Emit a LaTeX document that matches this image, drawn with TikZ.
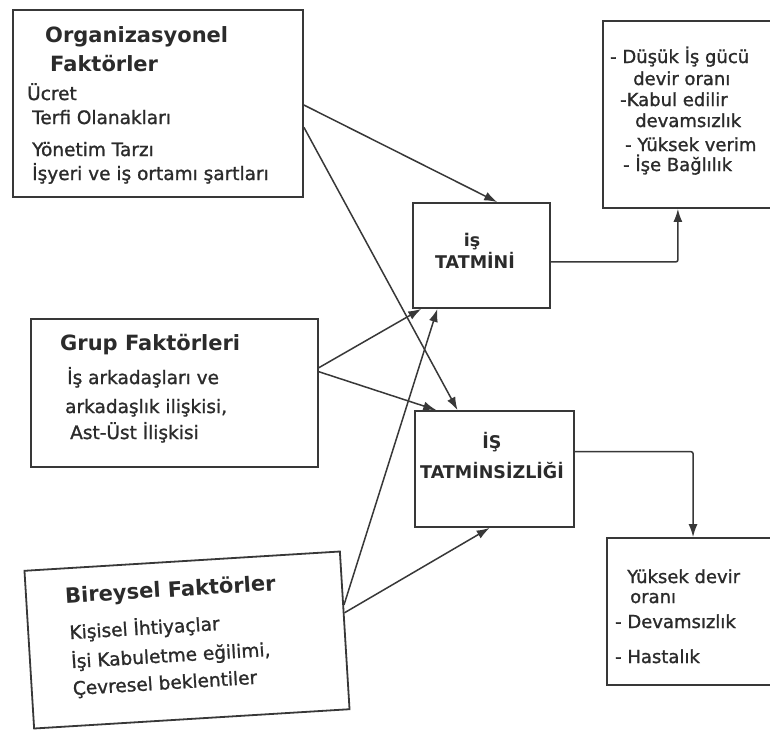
\documentclass[tikz,border=0pt]{standalone}
\usepackage{fontspec}
\setmainfont{DejaVu Sans}
\newfontfamily\plainface{DejaVu Sans}[FakeBold=1.2]
\usetikzlibrary{arrows.meta,calc}
\definecolor{ink}{HTML}{2B2B2B}
\definecolor{rule}{HTML}{383838}

\begin{document}
\begin{tikzpicture}[x=1pt,y=-1pt,
  box/.style={draw=rule, line width=1.8pt, inner sep=0pt, fill=none},
  txt/.style={anchor=base west, inner sep=0pt, text=ink, font=\plainface\fontsize{18.5}{20}\selectfont},
  ttl/.style={anchor=base west, inner sep=0pt, text=ink, font=\fontsize{21}{24}\selectfont\bfseries},
  sml/.style={anchor=base west, inner sep=0pt, text=ink, font=\plainface\fontsize{18}{20}\selectfont},
  hub/.style={anchor=base, inner sep=0pt, text=ink, font=\fontsize{17.5}{20}\selectfont\bfseries},
  arr/.style={draw=rule, line width=1.5pt, -{Latex[length=13pt,width=9pt]}}]
\useasboundingbox (0,0) rectangle (770,731);
\fill[white] (0,0) rectangle (770,731);

% factor boxes
\node[box, minimum width=290pt, minimum height=187pt] (org) at (158,103.5) {};
\node[ttl] (orgA) at (45,42) {Organizasyonel};
\node[ttl] (orgB) at (50,71) {Faktörler};
\node[txt] (org1) at (27,100) {Ücret};
\node[txt] (org2) at (32,124) {Terfi Olanakları};
\node[txt] (org3) at (32,156) {Yönetim Tarzı};
\node[txt] (org4) at (32,180) {İşyeri ve iş ortamı şartları};

\node[box, minimum width=287pt, minimum height=148pt] (grp) at (174.5,393) {};
\node[ttl] (grpA) at (60,350) {Grup Faktörleri};
\node[txt] (grp1) at (67,384) {İş arkadaşları ve};
\node[txt] (grp2) at (65,413) {arkadaşlık ilişkisi,};
\node[txt] (grp3) at (70,439) {Ast-Üst İlişkisi};

\begin{scope}[rotate around={3.5:(187,640)}]
  \node[box, transform shape, minimum width=316pt, minimum height=158pt] (bir) at (187,640) {};
  \node[ttl, transform shape] (birA) at (68,596) {Bireysel Faktörler};
  \node[txt, transform shape] (bir1) at (70,632) {Kişisel İhtiyaçlar};
  \node[txt, transform shape] (bir2) at (70,661) {İşi Kabuletme eğilimi,};
  \node[txt, transform shape] (bir3) at (70,688) {Çevresel beklentiler};
\end{scope}

% central boxes
\node[box, minimum width=137pt, minimum height=105pt] (sat) at (481.5,255.5) {};
\node[hub] (satA) at (472,246) {iş};
\node[hub] (satB) at (475,268) {TATMİNİ};

\node[box, minimum width=159pt, minimum height=116pt] (dis) at (494.5,469) {};
\node[hub] (disA) at (492,448) {İŞ};
\node[hub] (disB) at (492,478) {TATMİNSİZLİĞİ};

% outcome boxes
\node[box, minimum width=172pt, minimum height=187pt] (out1) at (689,114.5) {};
\node[sml] (o1a) at (610,63) {- Düşük İş gücü};
\node[sml] (o1b) at (633,85) {devir oranı};
\node[sml] (o1c) at (620,106) {-Kabul edilir};
\node[sml] (o1d) at (635,127) {devamsızlık};
\node[sml] (o1e) at (625,151) {- Yüksek verim};
\node[sml] (o1f) at (623,171) {- İşe Bağlılık};

\node[box, minimum width=168pt, minimum height=147pt] (out2) at (691,611.5) {};
\node[sml] (o2a) at (627,583) {Yüksek devir};
\node[sml] (o2b) at (630,603) {oranı};
\node[sml] (o2c) at (615,628) {- Devamsızlık};
\node[sml] (o2d) at (615,663) {- Hastalık};

% connectors from the factors
\draw[arr] ($(org.north east)!0.508!(org.south east)$) -- ($(sat.north west)!0.613!(sat.north east)$);
\draw[arr] ($(org.north east)!0.626!(org.south east)$) -- ($(dis.north west)!0.27!(dis.north east)$);
\draw[arr] ($(grp.north east)!0.331!(grp.south east)$) -- ($(sat.south west)!0.066!(sat.south east)$);
\draw[arr] ($(grp.north east)!0.358!(grp.south east)$) -- ($(dis.north west)!0.138!(dis.north east)$);
\draw[arr] ($(bir.north east)!0.34!(bir.south east)$) -- ($(sat.south west)!0.182!(sat.south east)$);
\draw[arr] ($(bir.north east)!0.39!(bir.south east)$) -- ($(dis.south west)!0.47!(dis.south east)$);

% connectors to the outcomes
\draw[arr, rounded corners=2pt] ($(sat.north east)!0.56!(sat.south east)$) -| ($(out1.south west)!0.436!(out1.south east)$);
\draw[arr, rounded corners=2pt] ($(dis.north east)!0.353!(dis.south east)$) -| ($(out2.north west)!0.512!(out2.north east)$);
\end{tikzpicture}
\end{document}
